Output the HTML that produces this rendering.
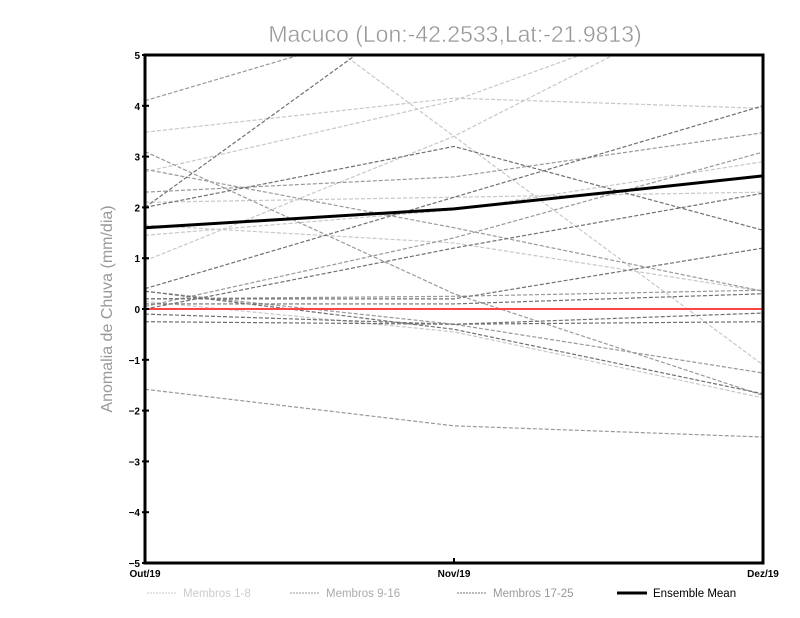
<!DOCTYPE html>
<html><head><meta charset="utf-8"><style>
body{margin:0;background:#fff;width:800px;height:618px;overflow:hidden}
svg{display:block;font-family:"Liberation Sans",sans-serif}
</style></head><body>
<svg id="chart" width="800" height="618">
<text x="455" y="42" text-anchor="middle" font-size="23" fill="#999" stroke="#fff" stroke-width="0.4">Macuco (Lon:-42.2533,Lat:-21.9813)</text>
<text transform="translate(112,309) rotate(-90)" text-anchor="middle" font-size="16" fill="#999">Anomalia de Chuva (mm/dia)</text>
<defs><clipPath id="pc"><rect x="145" y="55" width="618" height="508"/></clipPath></defs>
<g id="series" clip-path="url(#pc)"></g>
<g id="axes"></g>
<g id="legend"></g>
</svg>
<script>
const categories=["Out/19","Nov/19","Dez/19"];
const yTicks=[5,4,3,2,1,0,-1,-2,-3,-4,-5];
const members1to8=[[3.48,4.15,3.95],[2.7,4.1,6.3],[0.95,3.4,6.5],[7.9,3.4,-1.1],[1.65,1.3,0.35],[1.45,1.95,2.9],[0.15,-0.45,-1.75],[2.1,2.2,2.3]];
const members9to16=[[4.1,5.9,7.5],[3.1,0.3,-1.7],[2.75,1.6,0.35],[2.3,2.6,3.47],[0.05,1.4,3.09],[0.35,-0.3,-1.26],[-1.58,-2.3,-2.52],[0.2,0.25,0.37]];
const members17to25=[[2.0,6.4,8],[2.0,3.2,1.55],[0.4,2.2,4.0],[0.0,1.2,2.28],[0.35,-0.4,-1.67],[0.2,0.2,1.2],[-0.1,-0.3,-0.08],[-0.25,-0.3,-0.25],[0.1,0.1,0.3]];
const ensembleMean=[1.6,1.97,2.62];
const legendLabels=["Membros 1-8","Membros 9-16","Membros 17-25","Ensemble Mean"];

const NS="http://www.w3.org/2000/svg";
const X0=145,X1=763,Y0=563,Y1=55;
const xs=i=>X0+i*(X1-X0)/(categories.length-1);
const ys=v=>Y0-(v+5)*(Y0-Y1)/10;
function mk(t,a,p){const e=document.createElementNS(NS,t);for(const k in a)e.setAttribute(k,a[k]);p.appendChild(e);return e;}
const S=document.getElementById('series');
function line(vals,color,w,dash,name){
  const e=mk('polyline',{points:vals.map((v,i)=>xs(i)+','+ys(v)).join(' '),fill:'none',stroke:color,'stroke-width':w,'stroke-dasharray':dash},S);
  
  
}
members1to8.forEach((d,i)=>line(d,'#c8c8c8',1.2,'4,2','member-light-'+(i+1)));
members9to16.forEach((d,i)=>line(d,'#999',1.2,'4,2','member-medium-'+(i+9)));
members17to25.forEach((d,i)=>line(d,'#707070',1.2,'4,2','member-dark-'+(i+17)));
const z=mk('line',{x1:X0,x2:X1,y1:ys(0),y2:ys(0),stroke:'#f44',"stroke-width":2},S);


line(ensembleMean,'#000',3,'none','ensemble-mean-line');
const A=document.getElementById('axes');
const fr=mk('rect',{x:X0,y:Y1,width:X1-X0,height:Y0-Y1,fill:'none',stroke:'#000','stroke-width':3},A);


yTicks.forEach(v=>{
  mk('line',{x1:X0-3,x2:X0+4,y1:ys(v),y2:ys(v),stroke:'#000','stroke-width':2},A);
  const t=mk('text',{x:X0-5,y:ys(v)+4,'text-anchor':'end','font-size':10,'font-weight':'bold'},A);
  t.textContent=v<0?'\u2212'+(-v):v;
  
  
});
categories.forEach((c,i)=>{
  mk('line',{x1:xs(i),x2:xs(i),y1:Y0,y2:Y0-5,stroke:'#000','stroke-width':2},A);
  const t=mk('text',{x:xs(i),y:Y0+14,'text-anchor':'middle','font-size':10,'font-weight':'bold'},A);
  t.textContent=c;
  
  
});
const L=document.getElementById('legend');
const lx=[147,290,457,617],lc=['#ccc','#999','#777','#000'],tc=['#ccc','#aaa','#999','#000'];
legendLabels.forEach((s,i)=>{
  mk('line',{x1:lx[i],x2:lx[i]+30,y1:593,y2:593,stroke:lc[i],'stroke-width':i==3?3:1,'stroke-dasharray':i==3?'none':'2,1'},L);
  const t=mk('text',{x:lx[i]+36,y:597,'font-size':11.5,fill:tc[i]},L);
  t.textContent=s;
  
  
});
</script>
</body></html>
